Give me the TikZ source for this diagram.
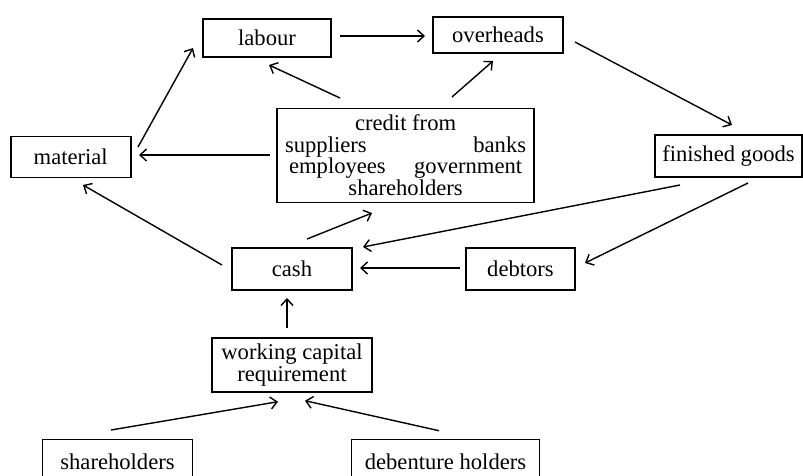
\documentclass[tikz,border=0pt]{standalone}
\usepackage{fontspec}
\setmainfont{Liberation Serif}
\usetikzlibrary{arrows.meta}
\begin{document}
\begin{tikzpicture}[x=1pt,y=-1pt,
  every node/.style={font=\fontsize{22.6}{21.5}\selectfont},
  box/.style={draw, line width=1.6pt, inner sep=0pt, align=center},
  arr/.style={line width=1.4pt, -{Straight Barb[length=6.5pt,width=12pt,line width=1.4pt]}}]
\useasboundingbox (0,0) rectangle (803,475);
\clip (0,0) rectangle (803,475);
% boxes
\node[box, minimum width=128, minimum height=38] (labour) at (267,38) {labour};
\node[box, minimum width=130, minimum height=36] (overheads) at (498,35) {overheads};
\node[box, minimum width=257, minimum height=94] (credit) at (405.6,155.3)
  {credit from\\\makebox[241pt]{suppliers\hfill banks}\\\makebox[233pt]{employees\hfill government}\\shareholders};
\node[box, minimum width=120, minimum height=41] (material) at (70.7,157) {material};
\node[box, minimum width=147, minimum height=42] (finished) at (728.5,156) {finished goods};
\node[box, minimum width=120, minimum height=42] (cash) at (292,269) {cash};
\node[box, minimum width=109, minimum height=42] (debtors) at (520.5,269) {debtors};
\node[box, minimum width=160, minimum height=54] (wcr) at (292,365) {working capital\\requirement};
\node[box, minimum width=150, minimum height=44] (sh) at (117.5,461.3) {shareholders};
\node[box, minimum width=188, minimum height=44] (deb) at (445.5,461.3) {debenture holders};
% connector end points
\coordinate (lo1) at (340,36);  \coordinate (lo2) at (425,36);
\coordinate (cl1) at (340,98);  \coordinate (cl2) at (269,65);
\coordinate (co1) at (452,97);  \coordinate (co2) at (493,61);
\coordinate (ml1) at (138,147); \coordinate (ml2) at (193,48);
\coordinate (cm1) at (270,155); \coordinate (cm2) at (139,155);
\coordinate (of1) at (575,42);  \coordinate (of2) at (732,125);
\coordinate (fc1) at (680,185); \coordinate (fc2) at (363,247);
\coordinate (fd1) at (748,183); \coordinate (fd2) at (585,263);
\coordinate (dc1) at (460,268); \coordinate (dc2) at (360,268);
\coordinate (wc1) at (287,328); \coordinate (wc2) at (287,298);
\coordinate (kc1) at (307,239); \coordinate (kc2) at (372,213);
\coordinate (km1) at (222,265); \coordinate (km2) at (83,185);
\coordinate (sw1) at (111,430); \coordinate (sw2) at (278,401.7);
\coordinate (dw1) at (439,430.7); \coordinate (dw2) at (305,400.7);
% connectors
\draw[arr] (lo1) -- (lo2);
\draw[arr] (cl1) -- (cl2);
\draw[arr] (co1) -- (co2);
\draw[arr] (ml1) -- (ml2);
\draw[arr] (cm1) -- (cm2);
\draw[arr] (of1) -- (of2);
\draw[arr] (fc1) -- (fc2);
\draw[arr] (fd1) -- (fd2);
\draw[arr] (dc1) -- (dc2);
\draw[arr] (wc1) -- (wc2);
\draw[arr] (kc1) -- (kc2);
\draw[arr] (km1) -- (km2);
\draw[arr] (sw1) -- (sw2);
\draw[arr] (dw1) -- (dw2);
\end{tikzpicture}
\end{document}
